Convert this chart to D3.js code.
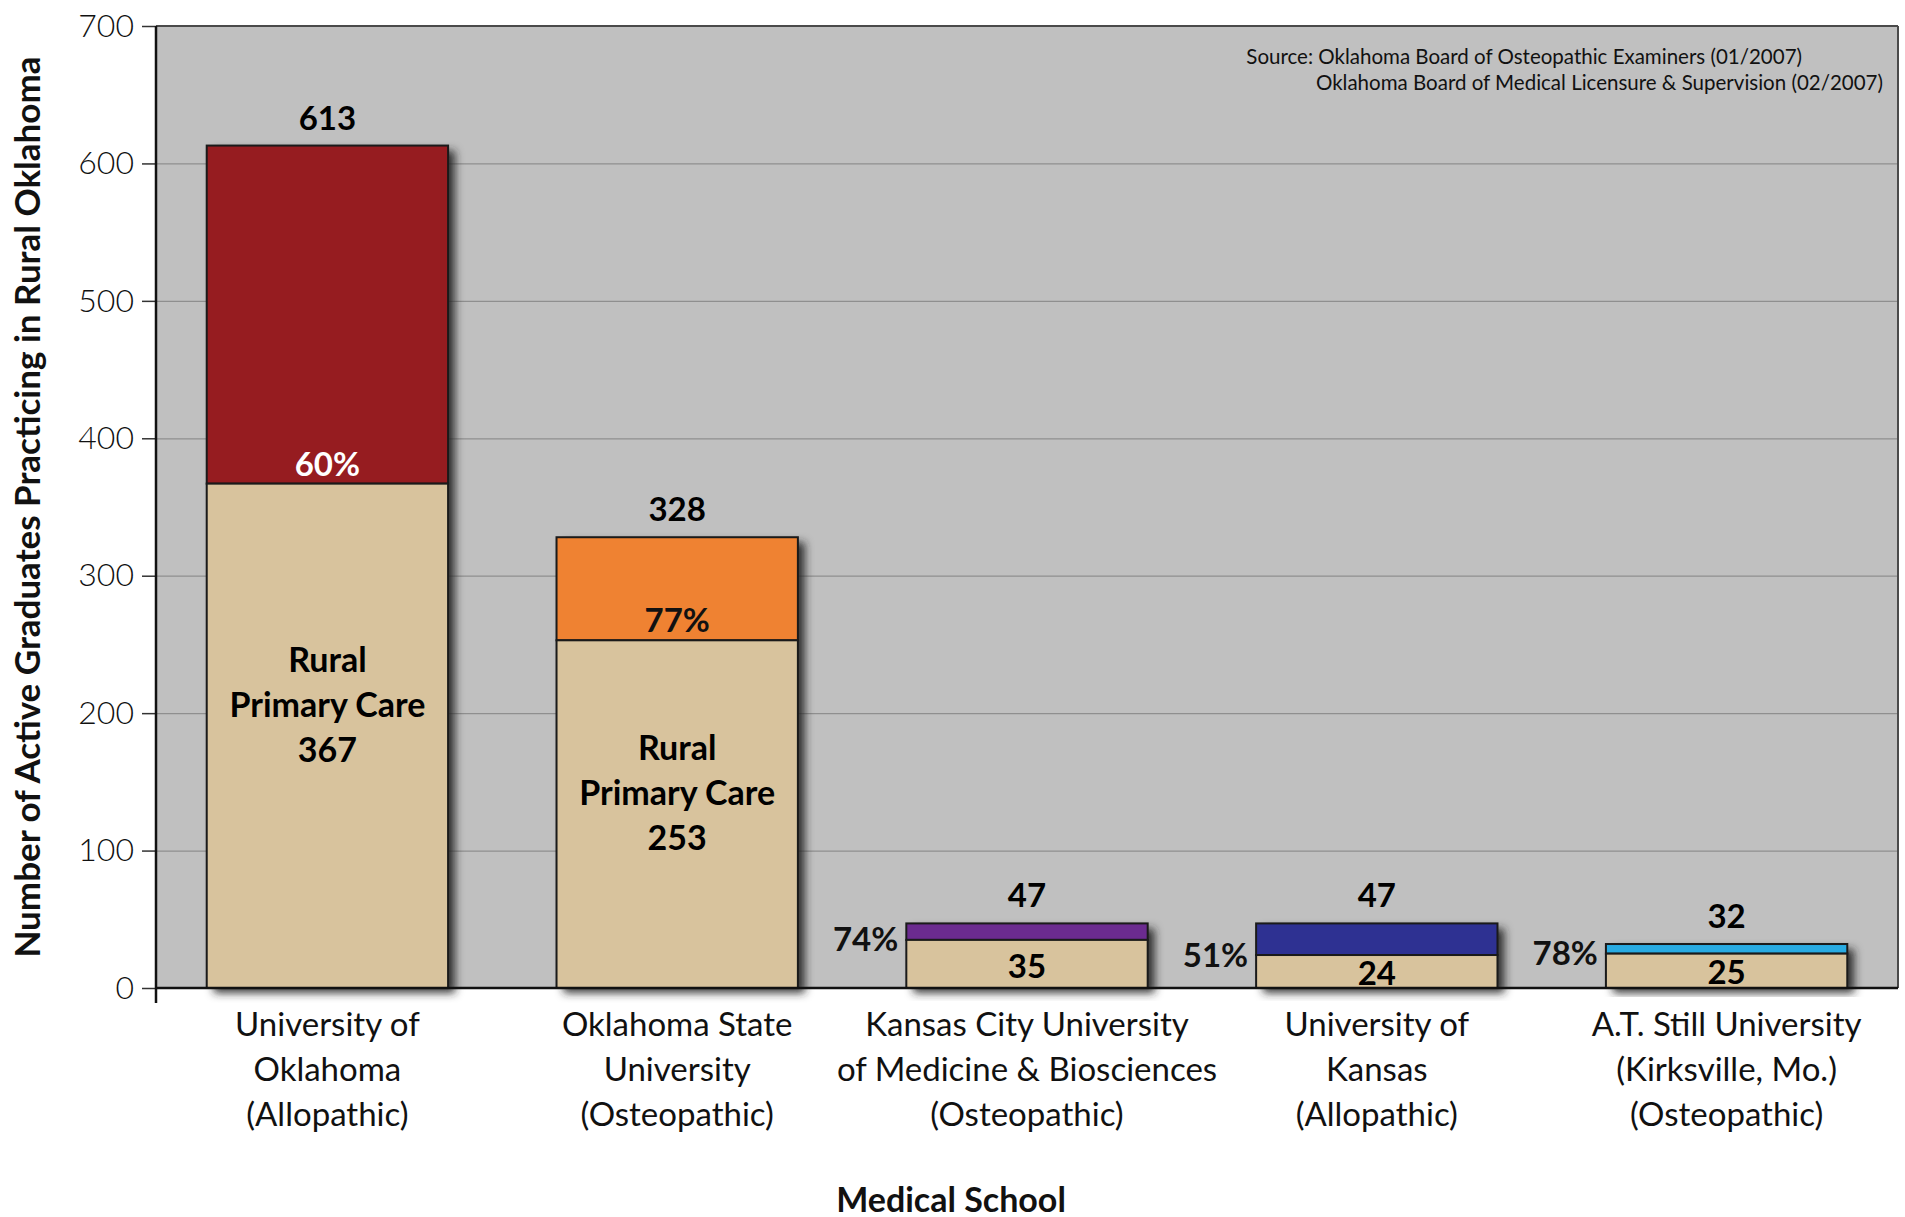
<!DOCTYPE html>
<html>
<head>
<meta charset="utf-8">
<script src="https://cdn.jsdelivr.net/npm/d3@7"></script>
<style>
	body { margin:0; background:#fff; }
	text { font-family: Lato, "Open Sans", sans-serif; }
</style>
</head>
<body>
<div id="chart"></div>
<script>
// data
const schools = [
	'University of|Oklahoma|(Allopathic)',
	'Oklahoma State|University|(Osteopathic)',
	'Kansas City University|of Medicine & Biosciences|(Osteopathic)',
	'University of|Kansas|(Allopathic)',
	'A.T. Still University|(Kirksville, Mo.)|(Osteopathic)'
];
const totals = [613, 328, 47, 47, 32];
const ruralPrimary = [367, 253, 35, 24, 25];
const percents = ['60%', '77%', '74%', '51%', '78%'];
const topColors = ['#961c20', '#ef8232', '#6b2b8f', '#2e3192', '#29abe2'];
const yTicks = [0, 100, 200, 300, 400, 500, 600, 700];
const sourceLines = [
	'Source: Oklahoma Board of Osteopathic Examiners (01/2007)',
	'Oklahoma Board of Medical Licensure & Supervision (02/2007)'
];

const width = 1905, height = 1217;
const margin = {t:26, r:7, b:229, l:156};
const w = width - margin.l - margin.r;
const h = height - margin.t - margin.b;

const rows = schools.map((s,i) => ({
	name: s, lines: s.split('|'), total: totals[i], rural: ruralPrimary[i],
	pct: percents[i], color: topColors[i]
}));

const svg = d3.select('#chart').append('svg')
	.attr('width', width)
	.attr('height', height);

const defs = svg.append('defs');
defs.append('filter').attr('id','shadow')
	.attr('x','-10%').attr('y','-10%').attr('width','130%').attr('height','130%')
	.append('feDropShadow')
	.attr('dx',7).attr('dy',5).attr('stdDeviation',4)
	.attr('flood-color','#222').attr('flood-opacity',0.9);

const plot = svg.append('g')
	.attr('transform', `translate(${margin.l},${margin.t})`);

const scaleX = d3.scaleBand()
	.domain(schools)
	.range([0, w])
	.paddingInner(0.31)
	.paddingOuter(0.145);
const scaleY = d3.scaleLinear().domain([0, 700]).range([h, 0]);

// background
plot.append('rect')
	.attr('width', w).attr('height', h)
	.attr('fill', '#c0c0c0');

// grid
const grid = plot.append('g')
	.call(d3.axisLeft(scaleY).tickValues(yTicks.slice(1, -1)).tickSize(-w).tickFormat(''));
grid.select('.domain').remove();
grid.selectAll('line').attr('stroke', '#8f8f8f').attr('stroke-width', 1.2);

// frame top/right
plot.append('line').attr('x1',0).attr('x2',w).attr('y1',0).attr('y2',0)
	.attr('stroke','#4a4a4a').attr('stroke-width',2);
plot.append('line').attr('x1',w).attr('x2',w).attr('y1',0).attr('y2',h)
	.attr('stroke','#4a4a4a').attr('stroke-width',2);

// bars
const bars = plot.selectAll('.bar')
	.data(rows)
	.enter().append('g')
	.attr('class','bar');

bars.append('rect')
	.attr('x', d => scaleX(d.name))
	.attr('width', scaleX.bandwidth())
	.attr('y', d => scaleY(d.total))
	.attr('height', d => h - scaleY(d.total))
	.attr('fill', '#555')
	.attr('filter', 'url(#shadow)');

bars.append('rect')
	.attr('x', d => scaleX(d.name))
	.attr('width', scaleX.bandwidth())
	.attr('y', d => scaleY(d.total))
	.attr('height', d => scaleY(d.rural) - scaleY(d.total))
	.attr('fill', d => d.color)
	.attr('stroke', '#1a1a1a').attr('stroke-width', 2);

bars.append('rect')
	.attr('x', d => scaleX(d.name))
	.attr('width', scaleX.bandwidth())
	.attr('y', d => scaleY(d.rural))
	.attr('height', d => h - scaleY(d.rural))
	.attr('fill', '#d8c39d')
	.attr('stroke', '#1a1a1a').attr('stroke-width', 2);

const cx = d => scaleX(d.name) + scaleX.bandwidth() / 2;
const big = d => d.total > 100;

// totals above bars
bars.append('text')
	.attr('x', cx)
	.attr('y', d => scaleY(d.total) - 16)
	.attr('text-anchor', 'middle')
	.style('font-size', '33px').style('font-weight', 700)
	.text(d => d.total);

// percentages
bars.append('text')
	.attr('x', d => big(d) ? cx(d) : scaleX(d.name) - 8)
	.attr('y', d => big(d) ? scaleY(d.rural) - 8 : scaleY(d.rural))
	.attr('dy', d => big(d) ? 0 : '0.35em')
	.attr('text-anchor', d => big(d) ? 'middle' : 'end')
	.attr('fill', (d,i) => i === 0 ? '#fff' : '#111')
	.style('font-size', '33px').style('font-weight', 700)
	.text(d => d.pct);

// rural primary care labels
bars.each(function(d){
	const g = d3.select(this);
	const segH = h - scaleY(d.rural);
	if (big(d)) {
		const lines = ['Rural', 'Primary Care', d.rural];
		const c = h - segH * 0.56; //block sits a bit above the middle
		g.append('text')
			.attr('text-anchor', 'middle')
			.style('font-size', '34px').style('font-weight', 700)
			.selectAll('tspan').data(lines).enter().append('tspan')
			.attr('x', cx(d))
			.attr('y', (l,j) => c + (j - 1) * 45)
			.attr('dy', '0.35em')
			.text(l => l);
	} else {
		g.append('text')
			.attr('x', cx(d))
			.attr('y', h - segH / 2 + 2)
			.attr('dy', '0.35em')
			.attr('text-anchor', 'middle')
			.style('font-size', '33px').style('font-weight', 700)
			.text(d.rural);
	}
});

// y axis
const axisY = plot.append('g')
	.call(d3.axisLeft(scaleY).tickValues(yTicks).tickSize(14).tickPadding(8));
axisY.select('.domain').remove();
axisY.selectAll('line').attr('stroke', '#333').attr('stroke-width', 1.5);
axisY.selectAll('text')
	.attr('fill', '#111')
	.style('font-size', '32px').style('font-weight', 300)
	.style('font-family', 'Lato, sans-serif');

plot.append('line').attr('x1',0).attr('x2',0).attr('y1',0).attr('y2',h + 15)
	.attr('stroke','#111').attr('stroke-width',2.5);
plot.append('line').attr('x1',0).attr('x2',w).attr('y1',h).attr('y2',h)
	.attr('stroke','#111').attr('stroke-width',2.5);

// x labels
plot.selectAll('.xlabel')
	.data(rows)
	.enter().append('text')
	.attr('class','xlabel')
	.attr('text-anchor','middle')
	.style('font-size','33px')
	.attr('fill','#111')
	.selectAll('tspan').data(d => d.lines.map(l => ({l, x: cx(d)}))).enter().append('tspan')
	.attr('x', t => t.x)
	.attr('y', (t,j) => h + 36 + j * 45)
	.attr('dy','0.35em')
	.text(t => t.l);

// axis titles
svg.append('text')
	.attr('transform', `translate(28,507) rotate(-90)`)
	.attr('text-anchor','middle')
	.attr('dy','0.35em')
	.style('font-size','35px').style('font-weight',700)
	.attr('fill','#111')
	.text('Number of Active Graduates Practicing in Rural Oklahoma');

svg.append('text')
	.attr('x', 951).attr('y', 1200)
	.attr('dy','0.35em')
	.attr('text-anchor','middle')
	.style('font-size','34px').style('font-weight',700)
	.attr('fill','#111')
	.text('Medical School');

// source note
svg.append('text')
	.attr('x', 1802).attr('y', 57)
	.attr('dy','0.35em')
	.attr('text-anchor','end')
	.style('font-size','20.5px')
	.attr('fill','#111')
	.text(sourceLines[0]);
svg.append('text')
	.attr('x', 1883).attr('y', 83)
	.attr('dy','0.35em')
	.attr('text-anchor','end')
	.style('font-size','20.5px')
	.attr('fill','#111')
	.text(sourceLines[1]);
</script>
</body>
</html>
